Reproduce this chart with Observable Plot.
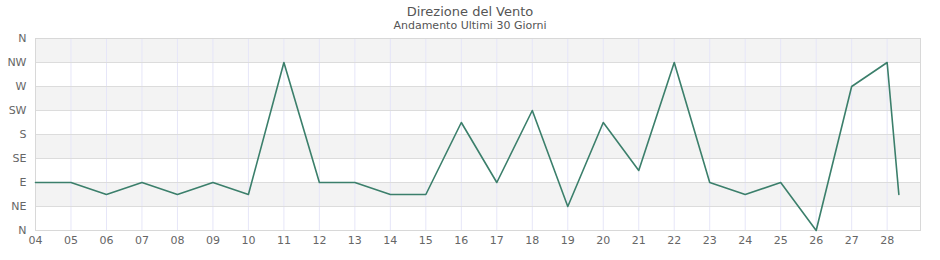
<!DOCTYPE html>
<html>
<head>
<meta charset="utf-8">
<script src="https://cdn.jsdelivr.net/npm/d3@7"></script>
<script src="https://cdn.jsdelivr.net/npm/@observablehq/plot@0.6"></script>
<style>
  body { margin: 0; background: #fff; font-family: "DejaVu Sans", sans-serif; }
  #wrap { width: 940px; }
  .title { text-align: center; font-size: 13px; line-height: 15px; color: #555; padding-top: 4px; }
  .subtitle { text-align: center; font-size: 11px; line-height: 13px; color: #555; }
</style>
</head>
<body>
<div id="wrap">
  <div class="title">Direzione del Vento</div>
  <div class="subtitle">Andamento Ultimi 30 Giorni</div>
  <div id="chart"></div>
</div>
<script>
const dayTicks = [4,5,6,7,8,9,10,11,12,13,14,15,16,17,18,19,20,21,22,23,24,25,26,27,28];
const xValues = [4,5,6,7,8,9,10,11,12,13,14,15,16,17,18,19,20,21,22,23,24,25,26,27,28,28.33];
const direction = [90,90,67.5,90,67.5,90,67.5,315,90,90,67.5,67.5,202.5,90,225,45,202.5,112.5,315,90,67.5,90,0,270,315,67.5];
const yTicks = [0,45,90,135,180,225,270,315,360];
const yLabels = ["N","NE","E","SE","S","SW","W","NW","N"];
const bandLow = [45,135,225,315];
const bandHigh = [90,180,270,360];

const points = xValues.map((x, i) => ({x, y: direction[i]}));
const bands = bandLow.map((lo, i) => ({lo, hi: bandHigh[i]}));

const chart = Plot.plot({
  width: 940,
  height: 228,
  marginLeft: 35,
  marginRight: 20,
  marginTop: 6,
  marginBottom: 30,
  style: { fontFamily: "DejaVu Sans", fontSize: "11px", color: "#666", overflow: "visible", background: "transparent" },
  x: { domain: [4, 28.94], label: null },
  y: { domain: [0, 360], label: null },
  marks: [
    Plot.rect(bands, { y1: "lo", y2: "hi", fill: "#f3f3f3" }),
    Plot.gridX(dayTicks, { stroke: "#e6e6f8", strokeOpacity: 1 }),
    Plot.gridY(yTicks, { stroke: "#dcdcdc", strokeOpacity: 1 }),
    Plot.frame({ stroke: "#d8d8d8" }),
    Plot.line(points, { x: "x", y: "y", stroke: "#3b7f6b", strokeWidth: 1.6 }),
    Plot.axisX({ ticks: dayTicks, tickFormat: d => String(d).padStart(2, "0"), tickSize: 0, tickPadding: 6, fill: "#666" }),
    Plot.axisY({ ticks: yTicks, tickFormat: d => yLabels[yTicks.indexOf(d)], tickSize: 0, tickPadding: 9, fill: "#666" })
  ]
});
document.getElementById("chart").appendChild(chart);
</script>
</body>
</html>
